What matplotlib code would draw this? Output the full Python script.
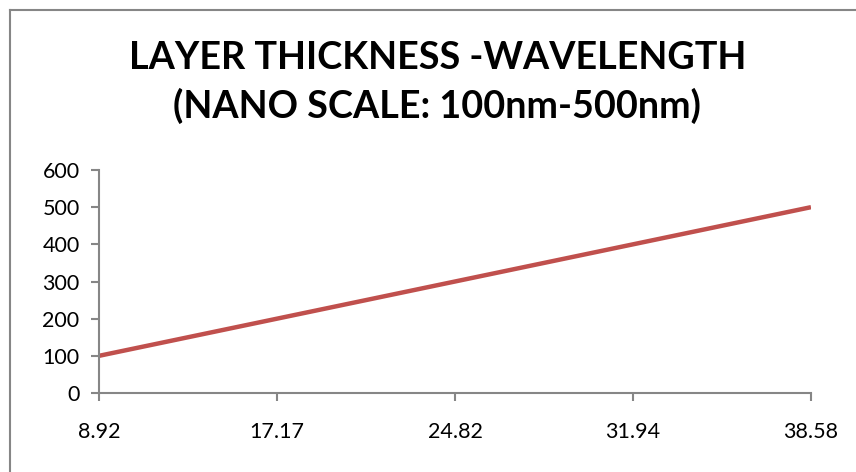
import matplotlib
matplotlib.use("Agg")
from matplotlib import pyplot as plt
from matplotlib.lines import Line2D

# dados
espessura = ["8.92", "17.17", "24.82", "31.94", "38.58"]
comprimento_onda = [100, 200, 300, 400, 500]
ticks_y = [0, 100, 200, 300, 400, 500, 600]

cinza = "#868686"
fonte = "Lato"

fig = plt.figure(figsize=(8.56, 4.72), dpi=100)
ax = fig.add_axes([0.1157, 0.1674, 0.8317, 0.4724])

x = list(range(len(espessura)))
ax.plot(x, comprimento_onda, color="#C0504D", linewidth=3.2, solid_capstyle="butt")

ax.set_xlim(0, len(espessura) - 1)
ax.set_ylim(0, 600)
ax.set_xticks(x)
ax.set_xticklabels(espessura)
ax.set_yticks(ticks_y)

for lado in ["top", "right"]:
    ax.spines[lado].set_visible(False)
for lado in ["left", "bottom"]:
    ax.spines[lado].set_color(cinza)
    ax.spines[lado].set_linewidth(1.5)

ax.tick_params(axis="both", colors=cinza, length=6, width=1.5, labelcolor="black",
               labelsize=15.5)
ax.tick_params(axis="y", pad=8)
ax.tick_params(axis="x", pad=15)
for t in ax.get_xticklabels() + ax.get_yticklabels():
    t.set_family(fonte)

# titulo em duas linhas
fig.text(0.511, 1 - 69 / 472, "LAYER THICKNESS -WAVELENGTH", ha="center", va="baseline",
         fontsize=27.2, fontweight="bold", family=fonte)
fig.text(0.511, 1 - 118 / 472, "(NANO SCALE: 100nm-500nm)", ha="center", va="baseline",
         fontsize=27.2, fontweight="bold", family=fonte)

# moldura do grafico (so esquerda e topo aparecem)
fig.add_artist(Line2D([10 / 856, 10 / 856], [0, 1 - 10 / 472], transform=fig.transFigure,
                      color=cinza, linewidth=1.5))
fig.add_artist(Line2D([10 / 856, 1], [1 - 10 / 472, 1 - 10 / 472], transform=fig.transFigure,
                      color=cinza, linewidth=1.5))

fig.savefig("out.png", dpi=100)
